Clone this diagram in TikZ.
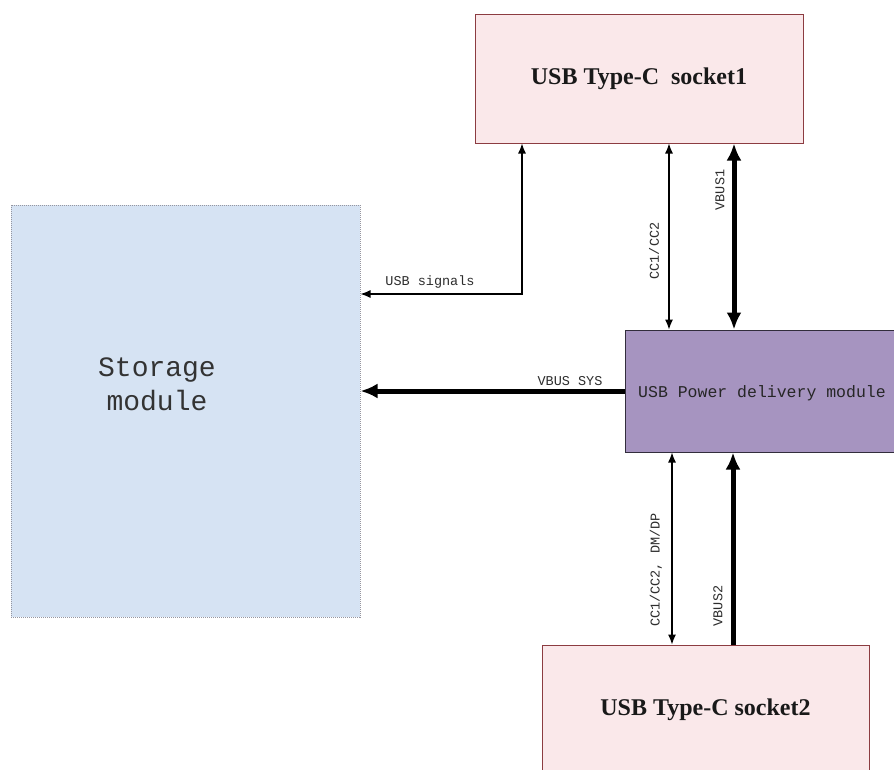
\documentclass[tikz,border=0pt]{standalone}
\usepackage{fontspec}
\setmainfont{Liberation Serif}
\setmonofont{Liberation Mono}
\usetikzlibrary{arrows.meta}
\definecolor{sockfill}{RGB}{250,232,234}
\definecolor{sockdraw}{RGB}{140,60,65}
\definecolor{pdfill}{RGB}{166,148,192}
\definecolor{pddraw}{RGB}{50,45,60}
\definecolor{stfill}{RGB}{214,227,243}
\definecolor{stdraw}{RGB}{150,150,160}
\definecolor{lbl}{RGB}{45,45,45}
\tikzset{
  sockbox/.style={draw=sockdraw, line width=1pt, fill=sockfill, inner sep=0pt,
    font=\fontsize{24}{28}\selectfont\bfseries, text=black!90},
  pdbox/.style={draw=pddraw, line width=1pt, fill=pdfill, inner sep=0pt},
  stbox/.style={draw=stdraw, densely dotted, line width=1pt, fill=stfill, inner sep=0pt},
  lab/.style={font=\ttfamily\fontsize{13.5}{15}\selectfont, text=lbl, inner sep=1pt},
  thinarr/.style={line width=1.2pt, black, {Latex[length=10pt,width=8pt]}-{Latex[length=10pt,width=8pt]}},
  thickarr/.style={line width=5pt, black},
  bigtip/.tip={Latex[length=17pt,width=15pt]}
}
\begin{document}
\begin{tikzpicture}[x=1pt,y=-1pt]
\clip (0,0) rectangle (894,769);
\fill[white] (0,0) rectangle (894,769);
% boxes
\node[stbox, minimum width=349pt, minimum height=412pt] (st) at (185.5,411) {};
\node[font=\ttfamily\fontsize{28}{34}\selectfont, text=black!80, align=center] (sttxt) at (157,384) {Storage\\module};
\node[sockbox, minimum width=328pt, minimum height=129pt] (s1) at (639,78.5) {USB Type-C\ \ socket1};
\node[sockbox, minimum width=327pt, minimum height=130pt] (s2) at (705.5,710) {USB Type-C socket2};
\node[pdbox, minimum width=280pt, minimum height=122pt] (pd) at (765,391) {};
\node[anchor=west, font=\ttfamily\fontsize{16.5}{20}\selectfont, text=black!85, inner sep=0pt] (pdtxt) at (638,393) {USB Power delivery module};
% connectors
\draw[thinarr] (s1.south -| 522,0) |- (st.east |- 0,294);
\node[lab] (l1) at (430,282) {USB signals};
\draw[thinarr] (s1.south -| 669,0) -- (pd.north -| 669,0);
\node[lab, rotate=90] (l2) at (654,251) {CC1/CC2};
\draw[thickarr, bigtip-bigtip] (s1.south -| 734,0) -- (pd.north -| 734,0);
\node[lab, rotate=90] (l3) at (720,190) {VBUS1};
\draw[thickarr, -bigtip] (pd.west) -- (st.east |- pd.west);
\node[lab] (l4) at (570,381) {VBUS SYS};
\draw[thinarr] (pd.south -| 672,0) -- (s2.north -| 672,0);
\node[lab, rotate=90] (l5) at (656,570) {CC1/CC2, DM/DP};
\draw[thickarr, -bigtip] (s2.north -| 733,0) -- (pd.south -| 733,0);
\node[lab, rotate=90] (l6) at (718,606) {VBUS2};
\end{tikzpicture}
\end{document}
